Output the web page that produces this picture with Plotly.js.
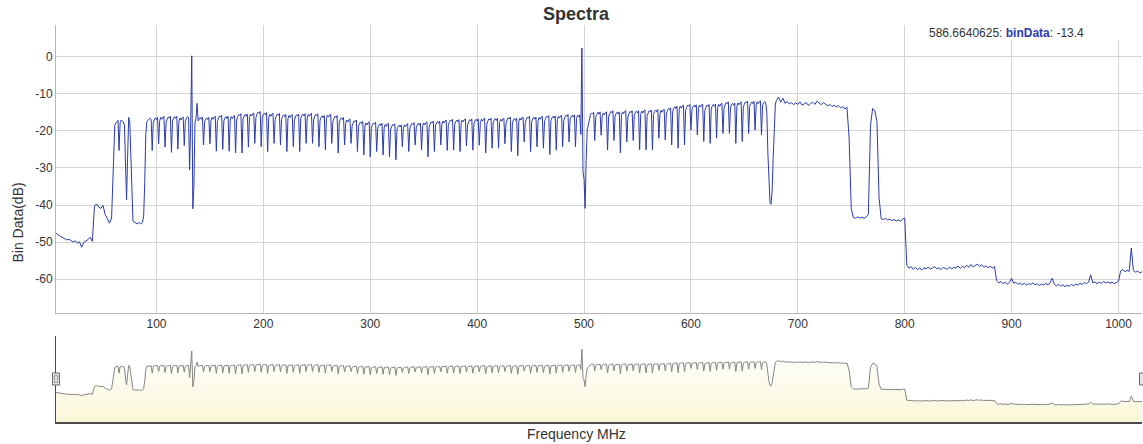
<!DOCTYPE html>
<html>
<head>
<meta charset="utf-8">
<script src="https://cdn.plot.ly/plotly-3.0.1.min.js"></script>
<style>
html, body { margin: 0; padding: 0; background: #ffffff; }
#chart { width: 1143px; height: 444px; }
</style>
</head>
<body>
<div id="chart"></div>
<script>
// ---- data ----
const seriesName = 'binData';
const hoverFreq = '586.6640625';
const hoverValue = -13.4;
const xTickVals = [100, 200, 300, 400, 500, 600, 700, 800, 900, 1000];
const yTickVals = [-60, -50, -40, -30, -20, -10, 0];

// band A: 6 .. 58 MHz, 2 MHz bins
const bandAStart = 6, bandAStep = 2;
const bandA = [
  -47.5, -48.1, -48.4, -48.8, -49.1, -49.4, -49.2, -49.7, -50.0, -49.6, -50.3, -49.9, -51.4, -50.1, -49.8, -49.3, -48.7, -49.8,
  -40.3, -39.7, -40.6, -40.9, -40.1, -42.6, -43.6, -44.9, -43.5
];

// band B: 59 .. 681 MHz, 1 MHz bins (channel comb)
const bandBStart = 59, bandBStep = 1;
const bandB = [
  // 59 .. 95
  -36.0, -24.0, -18.5, -17.9, -17.4, -17.2, -25.3, -17.8, -17.1, -17.3, -17.6, -18.5, -31.0, -38.6, -27.0, -16.4, -17.5, -28.0, -41.0,
  -44.3, -44.6, -44.8, -45.0, -45.1, -44.8, -44.7, -45.1, -45.0, -44.6, -43.0, -34.0, -21.0, -17.5, -17.2, -16.9, -16.6, -16.9,
  -25.3, -17.7, -16.9, -16.5, -17.0, -16.4, // 96
  -23.5, -17.3, -16.4, -16.9, -16.3, -16.1, // 102
  -24.4, -17.8, -16.9, -16.3, -16.6, -16.1, // 108
  -25.8, -17.4, -16.6, -16.2, -16.7, -16.1, // 114
  -24.9, -17.5, -16.6, -17.1, -16.5, -16.3, // 120
  -24.0, -17.4, -16.6, -16.2, -16.4, -30.5, // 126
  -17.8, 0.2, -41.0, -35.0, -18.0, -16.6,   // 132
  -12.6, -17.3, -16.8, -16.4, -16.9, -16.3, // 138
  -23.8, -17.7, -16.9, -16.5, -17.0, -16.4, // 144
  -23.5, -17.3, -16.4, -16.9, -16.3, -16.1, // 150
  -25.5, -17.5, -16.6, -16.0, -16.3, -15.8, // 156
  -25.0, -17.4, -16.6, -16.2, -16.7, -16.1, // 162
  -25.5, -17.1, -16.2, -16.7, -16.1, -15.9, // 168
  -26.0, -17.1, -16.2, -15.6, -15.9, -15.4, // 174
  -26.0, -16.8, -16.0, -15.6, -16.1, -15.5, // 180
  -24.4, -16.4, -15.5, -16.0, -15.4, -15.2, // 186
  -23.4, -16.5, -15.6, -15.0, -15.3, -14.8, // 192
  -24.3, -16.4, -15.6, -15.2, -15.7, -15.1, // 198
  -25.6, -16.5, -15.6, -16.1, -15.5, -15.3, // 204
  -23.4, -17.0, -16.1, -15.5, -15.8, -15.3, // 210
  -23.8, -16.9, -16.1, -15.7, -16.2, -15.6, // 216
  -25.6, -16.8, -15.9, -16.4, -15.8, -15.6, // 222
  -24.3, -17.2, -16.3, -15.7, -16.0, -15.5, // 228
  -25.6, -16.7, -15.9, -15.5, -16.0, -15.4, // 234
  -23.4, -16.5, -15.6, -16.1, -15.5, -15.3, // 240
  -23.4, -17.1, -16.2, -15.6, -15.9, -15.4, // 246
  -24.3, -17.2, -16.4, -16.0, -16.5, -15.9, // 252
  -25.1, -16.7, -15.8, -16.3, -15.7, -15.5, // 258
  -23.4, -17.6, -16.7, -16.1, -16.4, -15.9, // 264
  -26.0, -17.7, -16.9, -16.5, -17.0, -16.4, // 270
  -23.8, -18.0, -17.1, -17.6, -17.0, -16.8, // 276
  -23.4, -18.8, -17.9, -17.3, -17.6, -17.1, // 282
  -25.6, -18.8, -18.0, -17.6, -18.1, -17.5, // 288
  -26.5, -18.8, -17.9, -18.4, -17.8, -17.6, // 294
  -27.0, -19.4, -18.5, -17.9, -18.2, -17.7, // 300
  -25.6, -19.3, -18.5, -18.1, -18.6, -18.0, // 306
  -26.5, -19.2, -18.3, -18.8, -18.2, -18.0, // 312
  -27.0, -19.8, -18.9, -18.3, -18.6, -18.1, // 318
  -27.8, -19.7, -18.9, -18.5, -19.0, -18.4, // 324
  -24.3, -19.3, -18.4, -18.9, -18.3, -18.1, // 330
  -25.6, -19.5, -18.6, -18.0, -18.3, -17.8, // 336
  -23.8, -19.2, -18.4, -18.0, -18.5, -17.9, // 342
  -25.1, -18.8, -17.9, -18.4, -17.8, -17.6, // 348
  -27.0, -19.1, -18.2, -17.6, -17.9, -17.4, // 354
  -25.6, -18.7, -17.9, -17.5, -18.0, -17.4, // 360
  -23.8, -18.3, -17.4, -17.9, -17.3, -17.1, // 366
  -25.3, -18.6, -17.7, -17.1, -17.4, -16.9, // 372
  -25.2, -18.3, -17.5, -17.1, -17.6, -17.0, // 378
  -25.6, -18.0, -17.1, -17.6, -17.0, -16.8, // 384
  -24.1, -18.5, -17.6, -17.0, -17.3, -16.8, // 390
  -25.2, -18.1, -17.3, -16.9, -17.4, -16.8, // 396
  -23.9, -17.8, -16.9, -17.4, -16.8, -16.6, // 402
  -26.0, -18.3, -17.4, -16.8, -17.1, -16.6, // 408
  -24.7, -17.9, -17.1, -16.7, -17.2, -16.6, // 414
  -24.7, -17.8, -16.9, -17.4, -16.8, -16.6, // 420
  -23.5, -18.0, -17.1, -16.5, -16.8, -16.3, // 426
  -25.6, -17.9, -17.1, -16.7, -17.2, -16.6, // 432
  -26.7, -17.5, -16.6, -17.1, -16.5, -16.3, // 438
  -23.0, -17.8, -16.9, -16.3, -16.6, -16.1, // 444
  -25.6, -17.6, -16.8, -16.4, -16.9, -16.3, // 450
  -24.3, -17.3, -16.4, -16.9, -16.3, -16.1, // 456
  -24.7, -17.6, -16.7, -16.1, -16.4, -15.9, // 462
  -26.4, -17.3, -16.5, -16.1, -16.6, -16.0, // 468
  -25.2, -17.0, -16.1, -16.6, -16.0, -15.8, // 474
  -24.3, -17.3, -16.4, -15.8, -16.1, -15.6, // 480
  -23.0, -17.0, -16.2, -15.8, -16.3, -15.7, // 486
  -24.3, -16.7, -15.8, -16.3, -15.7, -21.0, // 492
  2.3, -30.9, -33.0, -40.9, -28.0, -19.5,   // 498
  -18.5, -16.3, -15.6, -15.2, -15.5, -15.0, // 504
  -22.6, -16.2, -15.4, -15.0, -15.5, -14.9, // 510
  -21.2, -16.1, -15.2, -15.7, -15.1, -14.9, // 516
  -25.2, -16.3, -15.4, -14.8, -15.1, -14.6, // 522
  -22.6, -16.2, -15.4, -15.0, -15.5, -14.9, // 528
  -26.0, -15.8, -14.9, -15.4, -14.8, -14.6, // 534
  -23.0, -16.3, -15.4, -14.8, -15.1, -14.6, // 540
  -22.6, -15.9, -15.1, -14.7, -15.2, -14.6, // 546
  -25.1, -15.6, -14.7, -15.2, -14.6, -14.4, // 552
  -25.1, -16.1, -15.2, -14.6, -14.9, -14.4, // 558
  -25.1, -15.6, -14.8, -14.4, -14.9, -14.3, // 564
  -22.0, -15.4, -14.5, -15.0, -14.4, -14.2, // 570
  -22.5, -15.5, -14.6, -14.0, -14.3, -13.8, // 576
  -23.8, -14.7, -13.9, -13.5, -14.0, -13.4, // 582
  -24.7, -14.3, -13.4, -13.9, -13.3, -13.1, // 588
  -23.8, -14.6, -13.7, -13.1, -13.4, -12.9, // 594
  -19.8, -14.3, -13.5, -13.1, -13.6, -13.0, // 600
  -21.1, -14.0, -13.1, -13.6, -13.0, -12.8, // 606
  -22.9, -14.6, -13.7, -13.1, -13.4, -12.9, // 612
  -23.4, -14.1, -13.3, -12.9, -13.4, -12.8, // 618
  -22.0, -13.8, -12.9, -13.4, -12.8, -12.6, // 624
  -20.7, -13.9, -13.0, -12.4, -12.7, -12.2, // 630
  -20.7, -13.8, -13.0, -12.6, -13.1, -12.5, // 636
  -23.4, -13.4, -12.5, -13.0, -12.4, -12.2, // 642
  -22.9, -13.7, -12.8, -12.2, -12.5, -12.0, // 648
  -20.7, -13.4, -12.6, -12.2, -12.7, -12.1, // 654
  -19.8, -13.1, -12.2, -12.7, -12.1, -11.9, // 660
  -21.1, -13.2, -12.4, -12.1, -12.5,        // 666 .. 670
  -15.0, -26.0, -35.0, -39.5, -39.8, -36.0, -27.0, -17.0, -12.8, -11.8, -11.3 // 671 .. 681
];

// band C: 682 .. 1022 MHz, 2 MHz bins
const bandCStart = 682, bandCStep = 2;
const bandC = [
  // 682 .. 746
  -10.9, -12.3, -11.2, -12.6, -12.1, -12.8, -12.4, -13.0, -12.5, -12.9, -12.2, -13.1, -12.7, -12.4, -13.2, -12.6, -12.3,
  -12.9, -12.0, -12.6, -13.0, -12.4, -12.8, -13.3, -12.9, -13.5, -13.1, -13.6, -13.2, -13.8, -13.5, -14.1, -13.7,
  // 748 .. 766
  -22.0, -41.0, -43.4, -43.6, -43.2, -43.5, -43.3, -43.6, -43.2, -42.5,
  // 768 .. 778
  -18.5, -14.0, -14.6, -17.5, -38.0, -43.7,
  // 780 .. 800
  -43.9, -43.6, -44.0, -43.8, -44.2, -43.9, -44.3, -44.0, -44.4, -43.8, -43.5,
  // 802 .. 884
  -56.3, -57.0, -56.6, -57.3, -56.8, -57.4, -57.0, -57.5, -56.9, -57.2,
  -56.7, -57.3, -57.0, -56.6, -57.2, -56.9, -57.4, -56.8, -57.1, -57.3,
  -56.7, -57.2, -56.8, -57.0, -56.4, -57.1, -56.5, -56.9, -56.2, -56.8,
  -56.0, -56.7, -56.3, -55.9, -56.6, -56.1, -56.8, -56.4, -56.9, -56.5,
  -57.0, -56.6,
  // 886 .. 1000
  -60.4, -61.0, -60.6, -61.2, -60.8, -61.3, -60.9, -59.7, -61.1, -60.8,
  -61.4, -61.0, -61.5, -61.1, -61.6, -61.2, -61.4, -61.0, -61.5, -61.2,
  -61.7, -61.3, -61.6, -61.1, -61.5, -61.0, -59.7, -61.4, -61.8, -61.3,
  -61.9, -61.5, -62.0, -61.6, -61.9, -61.4, -61.8, -61.3, -61.6, -61.1,
  -61.4, -60.9, -61.2, -60.8, -58.8, -61.0, -60.7, -61.2, -60.8, -61.1,
  -60.6, -61.0, -60.7, -61.1, -60.8, -61.2, -60.9, -60.6,
  // 1002 .. 1022
  -57.8, -57.4, -58.0, -57.6, -57.9, -51.6, -57.7, -58.1, -57.8, -58.3, -58.0
];

// assemble frequency / value columns from the bands
const bands = [
  { start: bandAStart, step: bandAStep, values: bandA },
  { start: bandBStart, step: bandBStep, values: bandB },
  { start: bandCStart, step: bandCStep, values: bandC }
];
const freq = [], binData = [];
bands.forEach(b => b.values.forEach((v, i) => { freq.push(b.start + i * b.step); binData.push(v); }));
const xRange = [freq[0], freq[freq.length - 1]];

// ---- layout helpers (pixel geometry of the 1143x444 page) ----
const W = 1143, H = 444;
const M = { l: 56, r: 1, t: 25, b: 22 };
const plotW = W - M.l - M.r, plotH = H - M.t - M.b;
const px = x => (x - M.l) / plotW;          // page px -> paper x
const py = y => (H - M.b - y) / plotH;      // page px -> paper y

const LINE_BLUE = '#2b3cab';
const TEXT = '#333333';
const GRID = '#d4d4d4';
const FONT = 'Liberation Sans, Arial, Helvetica, sans-serif';
const MINI_RANGE = [-81.5, 17.5];

const traces = [
  {
    x: freq, y: binData, type: 'scatter', mode: 'lines', name: seriesName,
    xaxis: 'x', yaxis: 'y',
    line: { color: LINE_BLUE, width: 1 },
    hoverinfo: 'skip'
  },
  {
    x: xRange, y: [MINI_RANGE[0], MINI_RANGE[0]], type: 'scatter', mode: 'lines',
    xaxis: 'x2', yaxis: 'y2', line: { width: 0, color: 'rgba(0,0,0,0)' },
    hoverinfo: 'skip', showlegend: false
  },
  {
    x: freq, y: binData, type: 'scatter', mode: 'lines',
    xaxis: 'x2', yaxis: 'y2',
    line: { color: '#858585', width: 1.0 },
    fill: 'tonexty',
    fillcolor: '#fcfae4',
    fillgradient: {
      type: 'vertical',
      start: MINI_RANGE[0], stop: 5,
      colorscale: [[0, '#faf7d8'], [1, '#ffffff']]
    },
    hoverinfo: 'skip', showlegend: false
  }
];

const layout = {
  width: W, height: H,
  margin: M,
  paper_bgcolor: '#ffffff', plot_bgcolor: '#ffffff',
  showlegend: false,
  font: { family: FONT, size: 12, color: TEXT },
  title: {
    text: '<b>Spectra</b>',
    font: { family: FONT, size: 18, color: TEXT },
    xref: 'container', x: 576 / W, xanchor: 'center',
    yref: 'container', y: 1 - 13.5 / H, yanchor: 'middle'
  },
  xaxis: {
    anchor: 'y', domain: [0, 1], range: xRange,
    tickmode: 'array', tickvals: xTickVals, ticktext: xTickVals.map(String),
    ticks: '', showgrid: true, gridcolor: GRID, gridwidth: 1,
    showline: true, linecolor: '#b5b5b5', linewidth: 1,
    zeroline: false,
    tickfont: { family: FONT, size: 12, color: TEXT }
  },
  yaxis: {
    anchor: 'x', domain: [py(313), 1], range: [-69.1, 8.5],
    tickmode: 'array', tickvals: yTickVals, ticktext: yTickVals.map(String),
    ticks: '', showgrid: true, gridcolor: GRID, gridwidth: 1,
    showline: true, linecolor: '#b5b5b5', linewidth: 1,
    zeroline: false,
    tickfont: { family: FONT, size: 12, color: TEXT }
  },
  xaxis2: {
    anchor: 'y2', domain: [0, 1], range: xRange,
    showticklabels: false, ticks: '', showgrid: false, zeroline: false,
    showline: true, linecolor: '#4a4a4a', linewidth: 1.5
  },
  yaxis2: {
    anchor: 'x2', domain: [0, py(336)], range: MINI_RANGE,
    showticklabels: false, ticks: '', showgrid: false, zeroline: false,
    showline: true, linecolor: '#4a4a4a', linewidth: 1.5
  },
  shapes: [
    { type: 'rect', xref: 'paper', yref: 'paper', layer: 'above',
      x0: px(910), x1: 1, y0: py(40), y1: 1,
      fillcolor: '#ffffff', line: { width: 0 } },
    { type: 'rect', xref: 'paper', yref: 'paper', layer: 'above',
      xsizemode: 'pixel', xanchor: 0, x0: -3.5, x1: 3.5,
      y0: py(385), y1: py(373),
      fillcolor: '#e4e4e4', line: { color: '#6a6a6a', width: 1 } },
    { type: 'rect', xref: 'paper', yref: 'paper', layer: 'above',
      xsizemode: 'pixel', xanchor: 0, x0: -1.5, x1: 1.5,
      y0: py(382.5), y1: py(375.5),
      fillcolor: 'rgba(0,0,0,0)', line: { color: '#9a9a9a', width: 1 } },
    { type: 'rect', xref: 'paper', yref: 'paper', layer: 'above',
      xsizemode: 'pixel', xanchor: 1, x0: -2.5, x1: 4.5,
      y0: py(385), y1: py(373),
      fillcolor: '#e4e4e4', line: { color: '#6a6a6a', width: 1 } }
  ],
  annotations: [
    {
      xref: 'paper', yref: 'paper', x: px(927), y: py(33),
      xanchor: 'left', yanchor: 'middle', showarrow: false,
      text: hoverFreq + ': <b><span style="color:' + LINE_BLUE + '">' + seriesName + '</span></b>: ' + hoverValue,
      font: { family: FONT, size: 12, color: TEXT }
    },
    {
      xref: 'paper', yref: 'paper', x: px(17.5), y: py(223),
      xanchor: 'center', yanchor: 'middle', showarrow: false, textangle: -90,
      text: 'Bin Data(dB)',
      font: { family: FONT, size: 14, color: TEXT }
    },
    {
      xref: 'paper', yref: 'paper', x: px(576), y: py(434),
      xanchor: 'center', yanchor: 'middle', showarrow: false,
      text: 'Frequency MHz',
      font: { family: FONT, size: 14, color: TEXT }
    }
  ]
};

Plotly.newPlot('chart', traces, layout, { staticPlot: true, displayModeBar: false });
</script>
</body>
</html>
